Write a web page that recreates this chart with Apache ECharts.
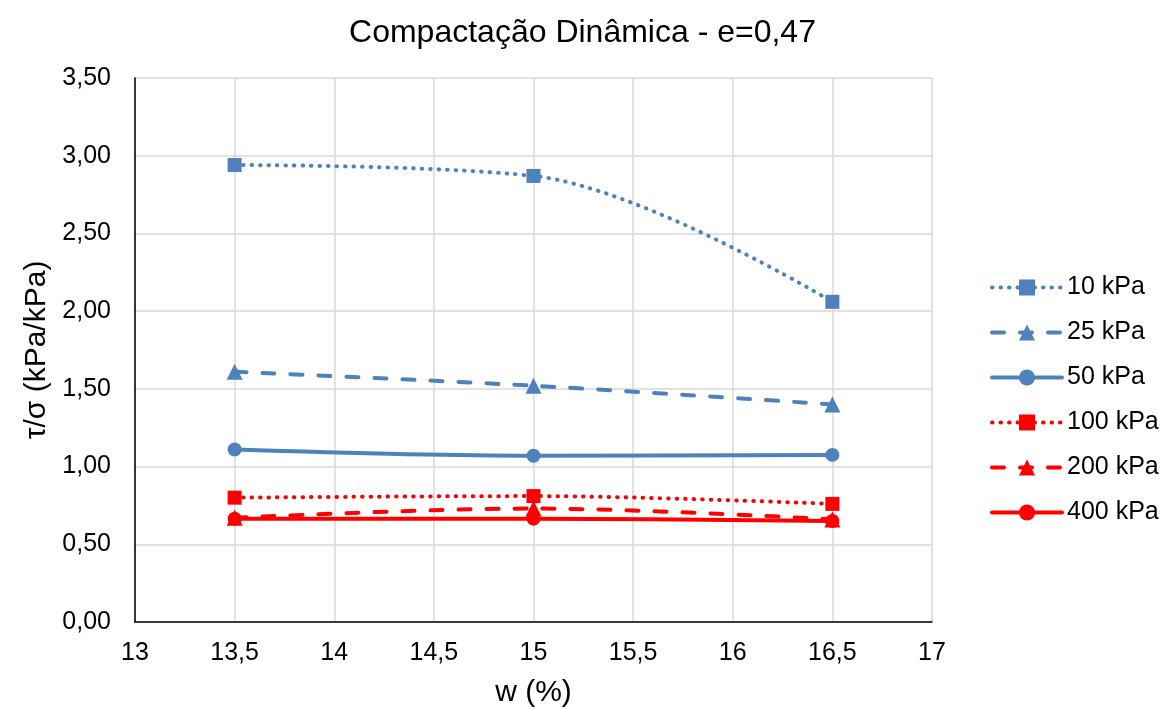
<!DOCTYPE html>
<html><head><meta charset="utf-8">
<script src="https://cdn.jsdelivr.net/npm/echarts@6/dist/echarts.min.js"></script>
<style>html,body{margin:0;padding:0;background:#fff}#c{width:1165px;height:709px}</style>
</head><body><div id="c"></div>
<script>
var wValues = [13.5, 15, 16.5];
var s10 = [2.94, 2.87, 2.06];
var s25 = [1.61, 1.52, 1.40];
var s50 = [1.11, 1.07, 1.075];
var s100 = [0.80, 0.81, 0.76];
var s200 = [0.67, 0.73, 0.66];
var s400 = [0.665, 0.665, 0.65];
var seriesNames = ['10 kPa','25 kPa','50 kPa','100 kPa','200 kPa','400 kPa'];
var titleText = 'Compactação Dinâmica - e=0,47';
var xName = 'w (%)';
var yName = 'τ/σ (kPa/kPa)';

var BLUE = '#4F81BD', RED = '#FF0000';
var FONT = 'Liberation Sans, Arial, sans-serif';
function pairs(v){ return wValues.map(function(x,i){return [x, v[i]];}); }
var defs = [
  {d:s10, c:BLUE, t:[0.5,8], s:'rect', z:14},
  {d:s25, c:BLUE, t:[12,16], s:'triangle', z:16},
  {d:s50, c:BLUE, t:'solid', s:'circle', z:14},
  {d:s100, c:RED, t:[0.5,8], s:'rect', z:14},
  {d:s200, c:RED, t:[12,16], s:'triangle', z:16},
  {d:s400, c:RED, t:'solid', s:'circle', z:14}
];
var series = defs.map(function(o,i){
  return {
    name: seriesNames[i], type:'line', smooth:0.35,
    data: pairs(o.d), symbol:o.s, symbolSize:o.z,
    itemStyle:{color:o.c},
    lineStyle:{color:o.c, width:4, type:o.t, cap:'round'}
  };
});
function fmt(v,d){ return (d==null? String(v) : v.toFixed(d)).replace('.',','); }
var chart = echarts.init(document.getElementById('c'));
chart.setOption({
  animation:false,
  textStyle:{fontFamily:FONT},
  title:{text:titleText, left:'center', top:12, textStyle:{fontSize:32, fontWeight:'normal', color:'#000', fontFamily:FONT}},
  grid:{left:135, right:233, top:78, bottom:87, outerBoundsMode:'none', containLabel:false},
  legend:{orient:'vertical', left:985, top:270, itemWidth:70, itemHeight:20, itemGap:20,
    lineStyle:{width:4, cap:'round'},
    textStyle:{fontSize:25, color:'#000'}, data:seriesNames},
  xAxis:{type:'value', min:13, max:17, interval:0.5, name:xName, nameLocation:'middle', nameGap:56,
    nameTextStyle:{fontSize:30, color:'#000'},
    axisLine:{show:true, lineStyle:{color:'#000', width:1.5}}, axisTick:{show:false},
    axisLabel:{fontSize:25, color:'#000', margin:19, formatter:function(v){return fmt(v);}},
    splitLine:{show:true, lineStyle:{color:'#D9D9D9', width:1.5}}},
  yAxis:{type:'value', min:0, max:3.5, interval:0.5, name:yName, nameLocation:'middle', nameGap:78,
    nameTextStyle:{fontSize:30, color:'#000'},
    axisLine:{show:true, lineStyle:{color:'#000', width:1.5}}, axisTick:{show:false},
    axisLabel:{fontSize:25, color:'#000', margin:24, formatter:function(v){return fmt(v,2);}},
    splitLine:{show:true, lineStyle:{color:'#D9D9D9', width:1.5}}},
  series: series
});
</script></body></html>
